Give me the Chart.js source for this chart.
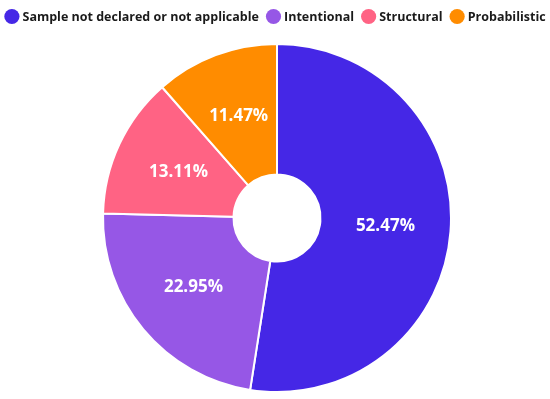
<!DOCTYPE html>
<html><head><meta charset="utf-8">
<script src="https://cdn.jsdelivr.net/npm/chart.js@4/dist/chart.umd.min.js"></script>
<style>html,body{margin:0;padding:0;background:#fff}#wrap{width:550px;height:399px}</style>
</head><body><div id="wrap"><canvas id="c"></canvas></div>
<script>
const categories = ["Sample not declared or not applicable","Intentional","Structural","Probabilistic"];
const values = [52.47, 22.95, 13.11, 11.47];
const colors = ["#4527E6","#9657E6","#FF6384","#FF8C00"];

const legendPlugin = {
  id:'customLegend',
  afterDraw(chart){
    const ctx = chart.ctx;
    ctx.save();
    ctx.font='bold 12.5px "Open Sans"';
    const r = 7.6, gapBox = 3, gapItem = 7;
    const widths = categories.map(t=>ctx.measureText(t).width);
    const total = widths.reduce((s,w)=>s+2*r+gapBox+w,0) + gapItem*(categories.length-1);
    let x = (chart.width - total)/2;
    const y = 16.5;
    ctx.textBaseline='middle';ctx.textAlign='left';
    categories.forEach((t,i)=>{
      ctx.beginPath();ctx.arc(x+r,y,r,0,Math.PI*2);ctx.fillStyle=colors[i];ctx.fill();
      ctx.fillStyle='#1a1a1a';
      ctx.fillText(t,x+2*r+gapBox,y+0.5);
      x += 2*r+gapBox+widths[i]+gapItem;
    });
    ctx.restore();
  }
};

const labelPlugin = {
  id:'lbl',
  afterDatasetsDraw(chart){
    const ctx = chart.ctx;
    const meta = chart.getDatasetMeta(0);
    ctx.save();
    ctx.fillStyle='#fff';
    ctx.font='bold 17px "Open Sans"';
    ctx.textAlign='center';ctx.textBaseline='middle';
    meta.data.forEach((arc,i)=>{
      const p = arc.tooltipPosition();
      ctx.fillText(values[i].toFixed(2)+'%', p.x, p.y);
    });
    ctx.restore();
  }
};

new Chart(document.getElementById('c'),{
  type:'doughnut',
  data:{labels:categories,datasets:[{data:values,backgroundColor:colors,borderColor:'#fff',borderWidth:2}]},
  options:{
    responsive:true,maintainAspectRatio:false,animation:false,
    cutout:'25%',
    layout:{padding:{top:43,bottom:6,left:4}},
    plugins:{legend:{display:false},tooltip:{enabled:false}}
  },
  plugins:[labelPlugin,legendPlugin]
});
</script></body></html>
